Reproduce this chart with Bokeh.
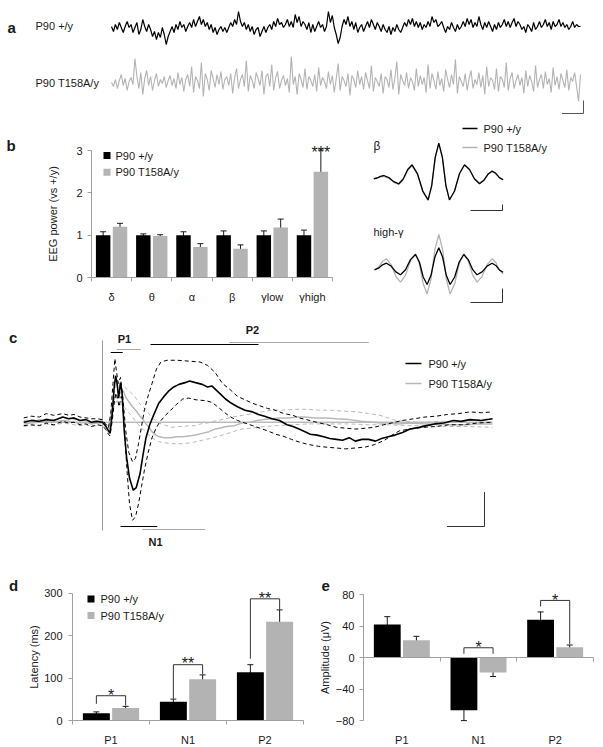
from bokeh.plotting import figure
from bokeh.models import (Range1d, ColumnDataSource, Whisker, TeeHead, Label,
                          FixedTicker, LinearAxis)
from bokeh.layouts import column, row
from bokeh.embed import file_html
from bokeh.resources import INLINE

FONT = "Liberation Sans"
TXT = "#1a1a1a"
AXC = "#a0a0a0"
BLK = "#000000"
GRY = "#b3b3b3"
ERPG = "#b8b8b8"

# ======================= DATA =======================
# (a) raw EEG traces (arbitrary units, up = positive)
eeg_wt = [3, -2, 5, 0, 7, 2, -3, 3, 8, 2,
          5, -3, 2, 7, -5, 0, 10, 3, -2, 5,
          0, -7, -2, -10, -3, -8, 2, -5, -15, -7,
          -2, 3, -3, 5, 0, 8, 2, 5, -2, 3,
          7, 2, 10, 3, 8, 13, 5, 10, 3, 7,
          0, 5, -3, 2, -5, 0, 3, -2, 2, -3,
          2, 7, 3, 10, 5, 18, 8, 3, 7, 0,
          5, -2, 3, -5, 0, 2, -7, -2, 3, -3,
          2, 5, 0, 8, 3, 11, 5, 7, 2, 5,
          10, 3, 8, 2, 15, 7, 13, 3, 8, 5,
          0, 7, -3, 5, -2, 3, 8, 2, 5, -2,
          3, 18, 7, 14, 2, -5, -14, -8, 3, 10,
          5, 13, 3, 8, 0, 7, -3, 2, 5, -2,
          3, 8, 2, 10, 5, 0, 7, 3, -2, 5,
          0, -3, 3, -5, 2, -2, 5, 0, -3, 2,
          7, 3, 10, 5, 11, 3, 8, 2, 7, 0,
          5, 2, 8, 3, 13, 7, 10, 3, 5, 8,
          2, -3, 3, 0, 7, 2, -2, 5, 0, 3,
          8, 3, 11, 5, 10, 2, 7, 3, 13, 5,
          0, 7, 2, 8, 3, -2, 5, 0, 7, 2,
          5, 10, 3, 8, 2, 7, 11, 3, 8, 5,
          0, 3, -3, 5, 2, -2, 7, 0, 3, 8,
          2, 5, 10, 3, 7, 0, 8, 3, 5, 10,
          3, 7, 2, 5, 0, 3, 8, 2, 5, 3, 3]
eeg_ko = [0, -4, 3, -6, 2, 8, -3, 4, -8, 1,
          5, -2, 24, 6, -6, 10, -12, 4, 12, -3,
          6, -8, 2, 9, -4, 3, -1, 6, -5, 2,
          7, -3, 4, -6, 10, -2, 5, -9, 3, 8,
          -4, 16, -10, 6, 2, -6, 20, -14, 9, 3,
          -8, 12, 4, -5, 8, -2, 11, -7, 3, 6,
          -3, 9, -11, 5, 14, -6, 3, 8, -4, 22,
          -9, 7, 2, -6, 10, 4, -3, 12, -12, 6,
          9, -4, 18, -8, 5, 11, -6, 2, 7, -3,
          4, -10, 26, -2, 6, -12, 9, 3, -5, 14,
          -7, 6, 2, -4, 8, -9, 15, -3, 5, 1,
          -6, 11, -2, 7, -10, 4, 19, -8, 6, 2,
          -4, 9, -13, 7, 3, -5, 12, -2, 6, -7,
          10, 2, -6, 17, -9, 5, 1, -4, 9, -11,
          6, 3, -5, 13, -7, 4, 21, -12, 8, 2,
          -3, 10, -6, 5, 1, -8, 14, -4, 7, -2,
          5, -10, 18, -6, 9, 2, -7, 11, -3, 4,
          -9, 13, 3, -5, 8, -2, 23, -11, 6, 1,
          -4, 9, -8, 4, 12, -6, 3, -2, 10, -5,
          7, -12, 16, -4, 5, 2, -7, 14, -9, 6,
          3, -5, 20, -8, 4, 10, -6, 2, 8, -3,
          5, -11, 12, -4, 7, 1, -9, 17, -5, 3,
          8, -6, 11, -2, 4, -10, 15, -3, 6, -7,
          9, 2, -5, 13, -8, 5, 1, 10, -4, -19, 8]

# (b) EEG power relative to +/y
bands = ["δ", "θ", "α", "β", "γlow", "γhigh"]
power_wt = [1.0, 1.0, 1.0, 1.0, 1.0, 1.0]
power_wt_err = [0.08, 0.03, 0.08, 0.10, 0.10, 0.12]
power_ko = [1.20, 0.98, 0.72, 0.68, 1.18, 2.50]
power_ko_err = [0.08, 0.03, 0.08, 0.09, 0.20, 0.51]
power_sig = ["", "", "", "", "", "***"]

# (b, right) averaged filtered waveforms
beta_t = [-65, -61.7, -58.3, -55, -50, -45, -40, -35.6, -31.1, -26.7, -21.4, -16,
          -10.7, -7.1, -3.6, 0, 3.6, 7.1, 10.7, 15.7, 20.7, 25.7, 30.7, 35.7, 40.7,
          44.9, 49.1, 53.3, 57, 60.6, 64.3]
beta_wt = [0, 0.8, 2.5, 3.3, 1.2, -2.9, -5, -0.25, 9.25, 14, 5.25, -12.25, -21, -6.8,
           21.5, 35.7, 21.5, -6.8, -21, -12.25, 5.25, 14, 9.25, -0.25, -5, -1.8, 4.5,
           7.7, 5.5, 1.2, -1]
beta_ko = [0.5, 1.0, 2.0, 2.5, 0.5, -3.5, -5.5, -0.9, 8.4, 13, 4.4, -12.9, -21.5, -7.4,
           20.9, 35, 20.9, -7.4, -21.5, -12.75, 4.75, 13.5, 9.1, 0.4, -4, -1.25, 4.25,
           7, 5, 1, -1]
hg_t = [-64.3, -60.3, -56.3, -52.3, -47.6, -43, -38.3, -33.3, -28.3, -23.3, -19.4,
        -15.6, -11.7, -7.8, -3.9, 0, 3.8, 7.5, 11.3, 15.9, 20.4, 25, 29.4, 33.9, 38.3,
        43.3, 48.3, 53.3, 57, 60.6, 64.3]
hg_wt = [0.7, 2.35, 5.65, 7.3, 4.4, -1.4, -4.3, 0.8, 10.9, 16, 8.5, -6.5, -14, -4.8,
         13.5, 22.7, 13.5, -4.8, -14, -6.5, 8.5, 16, 10.9, 0.8, -4.3, -1.4, 4.4, 7.3,
         5.05, 0.55, -1.7]
hg_ko = [0.7, 3.45, 8.95, 11.7, 5.85, -5.85, -11.7, -4.6, 9.6, 16.7, 6.7, -13.3, -23.3,
         -8.5, 21.2, 36, 21.2, -8.5, -23.3, -13.3, 6.7, 16.7, 9.6, -4.6, -11.7, -5.85,
         5.85, 11.7, 7.95, 0.45, -3.3]

# (c) ERP (time in ms, amplitude in arbitrary units); mean and mean +/- s.e.m.
erp_wt_mean = [(-105, 0), (-95, 2), (-84, 1), (-75, 3), (-65, 2), (-53, 6), (-45, 4), (-38, 5),
               (-30, 2), (-22, 3), (-15, 0), (-7, 1), (0, 0), (4, -4), (8, -10), (10, -13),
               (13, 10), (15.5, 40), (17.5, 54), (19.5, 45), (21.5, 28), (24, 46), (26, 35),
               (29, -10), (32, -40), (36, -65), (41, -79), (45, -76), (50, -60), (54, -38),
               (58, -18), (63, -3), (68, 8), (75, 22), (82, 30), (88, 36), (95, 41), (102, 44),
               (110, 46), (116, 48), (124, 46), (133, 44), (140, 41), (146, 42), (152, 37),
               (158, 32), (164, 27), (172, 22), (180, 18), (190, 14), (200, 12), (208, 9),
               (216, 7), (226, 4), (236, 2), (246, -3), (254, -5), (262, -8), (270, -11),
               (277, -14), (286, -15), (295, -17), (303, -19), (312, -20), (320, -21),
               (329, -18), (337, -22), (346, -20), (355, -20), (364, -22), (372, -19),
               (381, -17), (390, -15), (400, -12), (410, -8), (422, -6), (432, -4),
               (443, -2), (455, -1), (468, 2), (478, 1), (490, 3), (505, 2), (520, 4)]
erp_wt_upper = [(-105, 5), (-95, 7), (-84, 6), (-75, 10), (-65, 8), (-53, 10), (-45, 8), (-38, 9),
                (-30, 6), (-22, 5), (-15, 4), (-7, 4), (0, 3), (4, -2), (8, -6), (11, 10),
                (14, 45), (16.5, 74), (18.5, 60), (21, 45), (24, 52), (27, 30), (31, -10),
                (35, -35), (40, -46), (44, -42), (48, -25), (52, -5), (56, 15), (60, 28),
                (66, 45), (72, 62), (78, 70), (86, 72), (100, 72), (115, 71), (130, 70),
                (140, 66), (150, 58), (160, 45), (170, 38), (180, 30), (190, 26), (200, 22),
                (210, 19), (220, 16), (230, 14), (242, 10), (254, 8), (262, 5), (272, 3),
                (285, 0), (300, -3), (312, -6), (325, -7), (338, -8), (350, -7), (362, -6),
                (375, -3), (385, -1), (400, 2), (415, 4), (430, 6), (445, 7), (460, 9),
                (475, 10), (490, 12), (505, 11), (520, 12)]
erp_wt_lower = [(-105, -4), (-95, -3), (-84, -4), (-75, -1), (-65, -3), (-53, 1), (-45, -1),
                (-38, 0), (-30, -3), (-22, -2), (-15, -5), (-7, -3), (0, -4), (4, -8), (8, -14),
                (10, -16), (13, 2), (16, 25), (18, 34), (20, 28), (22, 18), (25, 30), (27, 20),
                (30, -20), (33, -60), (36, -95), (40, -114), (44, -110), (48, -95), (52, -75),
                (56, -55), (61, -35), (66, -18), (71, -8), (76, 0), (84, 8), (91, 14), (99, 21),
                (107, 27), (115, 28), (125, 26), (138, 25), (146, 23), (152, 19), (159, 14),
                (166, 9), (173, 5), (180, 2), (190, -1), (200, -4), (210, -7), (220, -10),
                (231, -14), (240, -16), (252, -20), (262, -23), (275, -26), (288, -28),
                (298, -29), (312, -30), (324, -31), (337, -30), (350, -29), (363, -26),
                (376, -21), (386, -15), (396, -10), (410, -8), (427, -6), (445, -5),
                (462, -3), (479, -3), (500, -1), (520, 0)]
erp_ko_mean = [(-105, -2), (-95, -1), (-84, 0), (-75, 1), (-65, 0), (-53, 2), (-45, 1), (-38, 0),
               (-30, -1), (-22, 0), (-15, -2), (-7, -1), (0, -1), (4, -5), (8, -8), (11, 4),
               (14, 20), (17, 31), (19, 28), (22, 32), (25, 35), (28, 36), (31, 29), (35, 24),
               (40, 18), (45, 13), (50, 7), (54, 3), (58, -2), (62, -6), (66, -11), (71, -15),
               (76, -17), (82, -18), (91, -18), (99, -17), (107, -17), (115, -16), (124, -15),
               (133, -13), (142, -11), (150, -8), (156, -7), (165, -5), (176, -4), (186, -1),
               (197, 0), (206, 2), (215, 3), (225, 4), (236, 5), (248, 5), (260, 6), (270, 6),
               (283, 5), (298, 5), (312, 4), (329, 3), (345, 1), (360, 0), (372, -1),
               (381, -1), (395, -2), (410, -1), (432, -2), (450, -2), (465, -3), (484, -3),
               (500, -2), (520, -2)]
erp_ko_upper = [(-105, 2), (-95, 3), (-84, 3), (-75, 4), (-65, 3), (-53, 5), (-45, 4), (-38, 3),
                (-30, 2), (-22, 3), (-15, 1), (-7, 2), (0, 2), (4, -2), (8, -4), (11, 8),
                (14, 28), (17, 40), (19.5, 45), (23, 42), (26, 40), (29.5, 41), (33, 38),
                (37, 35), (41, 32), (46, 26), (51, 20), (55.5, 17), (60, 12), (65, 6), (71, 2),
                (78, -2), (85, -4), (92, -6), (100, -5), (108, -5), (116, -4), (123, -4),
                (131, -2), (140, -1), (148, 1), (154, 2), (164, 4), (174, 6), (187, 8),
                (200, 10), (213, 12), (226, 14), (240, 14), (257, 15), (272, 15), (288, 14),
                (303, 14), (320, 13), (340, 12), (355, 10), (370, 8), (381, 5), (391, 2),
                (405, 1), (420, 0), (433, 0), (450, 1), (466, 1), (484, 2), (500, 3), (520, 4)]
erp_ko_lower = [(-105, -5), (-95, -4), (-84, -3), (-75, -2), (-65, -4), (-53, -1), (-45, -2),
                (-38, -3), (-30, -4), (-22, -3), (-15, -5), (-7, -4), (0, -4), (4, -8), (8, -12),
                (11, 0), (14, 14), (17, 22), (19.5, 25), (23, 20), (26, 21), (29.5, 17),
                (33, 13), (36, 10), (40, 6), (45, 0), (50, -5), (55, -9), (61, -14), (66, -18),
                (71, -21), (76, -23), (84, -24), (92, -25), (100, -25), (108, -25), (116, -24),
                (123, -23), (133, -21), (143, -19), (152, -17), (164, -14), (174, -11),
                (185, -8), (198, -7), (215, -5), (232, -4), (252, -3), (275, -2), (303, -2),
                (330, -2), (355, -3), (380, -3), (406, -4), (430, -4), (458, -5), (490, -5),
                (520, -6)]
# component analysis windows (ms)
win_names = ["P1", "N1", "P2"]
win_wt_start = [11, 24, 64]
win_wt_end = [27, 73, 208]
win_ko_start = [19, 53, 169]
win_ko_end = [51, 137, 355]

# (d) latency, (e) amplitude
components = ["P1", "N1", "P2"]
lat_wt = [18, 45, 114]
lat_wt_err = [3, 6, 18]
lat_ko = [30, 98, 233]
lat_ko_err = [4, 10, 28]
lat_sig = ["*", "**", "**"]
lat_br_top = [59, 132, 287]
lat_br_left = [40, 52, 146]
lat_br_right = [36, 110, 262]

amp_wt = [42, -67, 48]
amp_wt_err = [10, 13, 10]
amp_ko = [22, -19, 13]
amp_ko_err = [5, 5, 3]
amp_sig = ["", "*", "*"]
amp_br_top = [0, 12.5, 72.6]
amp_br_left = [0, 4.8, 65]
amp_br_right = [0, 4.8, 17]

# ======================= HELPERS =======================
def make(X0, Y0, W, H, xo, xs, yo, ys):
    """Figure whose frame is the whole canvas (page box X0,Y0,W,H).
    data x -> page X = xo + x*xs ; data y -> page Y = yo - y*ys"""
    xr = Range1d((X0 - xo) / xs, (X0 + W - xo) / xs)
    yr = Range1d((yo - (Y0 + H)) / ys, (yo - Y0) / ys)
    p = figure(width=W, height=H, x_range=xr, y_range=yr, output_backend="svg",
               toolbar_location=None, x_axis_location=None, y_axis_location=None,
               min_border_left=0, min_border_right=0, min_border_top=0, min_border_bottom=0)
    p.outline_line_color = None
    p.background_fill_color = "white"
    p.border_fill_color = "white"
    p.grid.visible = False

    def gx(X):
        return (X - xo) / xs

    def gy(Y):
        return (yo - Y) / ys
    return p, gx, gy


def label(p, x, y, text, size=11, bold=False, align="left", baseline="middle", color=TXT):
    p.add_layout(Label(x=x, y=y, text=text, text_font=FONT, text_font_size=f"{size}px",
                       text_font_style="bold" if bold else "normal", text_align=align,
                       text_baseline=baseline, text_color=color))


def style_axis(ax, size="11px"):
    ax.axis_line_color = AXC
    ax.major_tick_line_color = AXC
    ax.major_tick_out = 4
    ax.major_tick_in = 0
    ax.minor_tick_line_color = None
    ax.major_label_text_font = FONT
    ax.major_label_text_font_size = size
    ax.major_label_text_color = TXT
    ax.axis_label_text_font = FONT
    ax.axis_label_text_font_size = size
    ax.axis_label_text_font_style = "normal"
    ax.axis_label_text_color = TXT


def value_axis(p, at, ticks, lo, hi, title, standoff, title_standoff):
    ax = LinearAxis(fixed_location=at, ticker=FixedTicker(ticks=ticks), bounds=(lo, hi))
    style_axis(ax)
    ax.major_label_standoff = standoff
    ax.axis_label = title
    ax.axis_label_standoff = title_standoff
    p.add_layout(ax, "left")
    return ax


def cat_axis(p, at, names, standoff):
    n = len(names)
    ax = LinearAxis(fixed_location=at, bounds=(-0.5, n - 0.5),
                    ticker=FixedTicker(ticks=list(range(n)),
                                       minor_ticks=[i - 0.5 for i in range(n + 1)]))
    style_axis(ax)
    ax.major_label_overrides = {i: s for i, s in enumerate(names)}
    ax.major_tick_line_color = None
    ax.major_tick_out = 0
    ax.minor_tick_line_color = AXC
    ax.minor_tick_out = 4
    ax.minor_tick_in = 0
    ax.major_label_standoff = standoff
    p.add_layout(ax, "below")
    return ax


def bars(p, vals, errs, offset, width, color):
    src = ColumnDataSource(dict(x=[i + offset for i in range(len(vals))], top=vals,
                                up=[v + e for v, e in zip(vals, errs)],
                                lo=[v - e for v, e in zip(vals, errs)]))
    r = p.vbar(x="x", top="top", bottom=0, width=width, source=src,
               fill_color=color, line_color=None)
    p.add_layout(Whisker(source=src, base="x", upper="up", lower="lo", line_color=TXT,
                         line_width=1,
                         upper_head=TeeHead(size=6, line_color=TXT, line_width=1),
                         lower_head=TeeHead(size=6, line_color=TXT, line_width=1)))
    return r


def legend_squares(p, gx, gy, sq_x, txt_x, rows):
    for Yc, color, text in rows:
        p.scatter([gx(sq_x)], [gy(Yc)], marker="square", size=7, fill_color=color,
                  line_color=None)
        label(p, gx(txt_x), gy(Yc), text, 11)


def legend_lines(p, gx, gy, x0, x1, txt_x, rows, width=1.5):
    for Yc, color, text in rows:
        p.line([gx(x0), gx(x1)], [gy(Yc), gy(Yc)], line_color=color, line_width=width)
        label(p, gx(txt_x), gy(Yc), text, 11)


STAR = 16


def star_y(gy, bracket_Y, gap_px):
    # baseline so that the asterisk centre sits gap_px above bracket_Y
    return gy(bracket_Y - gap_px + 0.58 * STAR)


# ======================= PANEL a =======================
n_a = len(eeg_wt)
tr_x0, tr_x1 = 111, 580
pps = (tr_x1 - tr_x0) / (n_a - 1)
fa, gxA, gyA = make(0, 0, 600, 120, tr_x0, pps, 120, 1.0)
base_wt, base_ko = gyA(29), gyA(82)
fa.line(list(range(len(eeg_ko))), [base_ko + v for v in eeg_ko], line_color=GRY, line_width=1.1)
fa.line(list(range(n_a)), [base_wt + v for v in eeg_wt], line_color=BLK, line_width=1.2)
SB_A_T, SB_A_V = 11, 13
cxA, cyA = gxA(583), gyA(113)
fa.line([cxA - SB_A_T, cxA, cxA], [cyA, cyA, cyA + SB_A_V], line_color="#555555", line_width=1)
label(fa, gxA(7), gyA(27), "a", 15, bold=True, baseline="alphabetic")
label(fa, gxA(35), gyA(25), "P90 +/y", 11)
label(fa, gxA(35), gyA(82), "P90 T158A/y", 11)

# ======================= PANEL b (bars) =======================
sxB = 241 / len(bands)
syB = 127 / 3
fbl, gxB, gyB = make(0, 120, 360, 198, 91 + 0.5 * sxB, sxB, 277, syB)
bars(fbl, power_wt, power_wt_err, -0.21, 0.36, BLK)
bars(fbl, power_ko, power_ko_err, 0.21, 0.36, GRY)
value_axis(fbl, -0.5, [0, 1, 2, 3], 0, 3, "EEG power (vs +/y)", 5, 14)
cat_axis(fbl, 0, bands, 9)
legend_squares(fbl, gxB, gyB, 106.5, 115, [(155, BLK, "P90 +/y"), (171.7, GRY, "P90 T158A/y")])
for i, s in enumerate(power_sig):
    if s:
        topY = 277 - (power_ko[i] + power_ko_err[i]) * syB
        label(fbl, i + 0.21, star_y(gyB, topY, 7), s, STAR, align="center",
              baseline="alphabetic")
label(fbl, gxB(6), gyB(145), "b", 15, bold=True, baseline="alphabetic")

# ======================= PANEL b (waveforms) =======================
fbr, gxW, gyW = make(360, 120, 240, 198, 438.3, 1.0, 318, 1.0)
off_beta, off_hg = gyW(178.3), gyW(270)
fbr.line(beta_t, [off_beta + v for v in beta_ko], line_color=GRY, line_width=1.3)
fbr.line(beta_t, [off_beta + v for v in beta_wt], line_color=BLK, line_width=1.3)
fbr.line(hg_t, [off_hg + v for v in hg_ko], line_color=GRY, line_width=1.3)
fbr.line(hg_t, [off_hg + v for v in hg_wt], line_color=BLK, line_width=1.3)
SB_W_T, SB_W_V1, SB_W_V2 = 32, 6, 14
for Yc, vlen in ((210, SB_W_V1), (302, SB_W_V2)):
    cx, cy = gxW(502), gyW(Yc)
    fbr.line([cx - SB_W_T, cx, cx], [cy, cy, cy + vlen], line_color="#333333", line_width=1)
legend_lines(fbr, gxW, gyW, 462, 477, 483, [(128, BLK, "P90 +/y"), (147, GRY, "P90 T158A/y")])
label(fbr, gxW(373), gyW(145), "β", 12)
label(fbr, gxW(373), gyW(231), "high-γ", 11)

# ======================= PANEL c =======================
PX_MS, PX_U, T0_X, BASE_Y = 0.75, 0.86, 102, 421.7
fc, gxC, gyC = make(0, 318, 600, 248, T0_X, PX_MS, BASE_Y, PX_U)
tt = [t for t, _ in erp_wt_mean]
fc.line([min(tt), max(tt)], [0, 0], line_color="#9a9a9a", line_width=1)
fc.line([0, 0], [gyC(340), gyC(530)], line_color="#9a9a9a", line_width=1)


def curve(pairs, color, dash="solid", width=1.0):
    return fc.line([t for t, _ in pairs], [v for _, v in pairs], line_color=color,
                   line_width=width, line_dash=dash)


curve(erp_ko_upper, ERPG, "4 3", 1.0)
curve(erp_ko_lower, ERPG, "4 3", 1.0)
curve(erp_ko_mean, ERPG, "solid", 1.5)
curve(erp_wt_upper, BLK, "4 3", 1.0)
curve(erp_wt_lower, BLK, "4 3", 1.0)
curve(erp_wt_mean, BLK, "solid", 1.6)
win_y_wt = {"P1": gyC(352), "N1": gyC(526), "P2": gyC(344)}
win_y_ko = {"P1": gyC(349), "N1": gyC(529), "P2": gyC(342)}
fc.segment(x0=win_ko_start, x1=win_ko_end, y0=[win_y_ko[n] for n in win_names],
           y1=[win_y_ko[n] for n in win_names], line_color="#aaaaaa", line_width=1)
fc.segment(x0=win_wt_start, x1=win_wt_end, y0=[win_y_wt[n] for n in win_names],
           y1=[win_y_wt[n] for n in win_names], line_color=BLK, line_width=1)
label(fc, gxC(124), gyC(338.5), "P1", 11, bold=True, align="center")
label(fc, gxC(252), gyC(329), "P2", 11, bold=True, align="center")
label(fc, gxC(155), gyC(541.5), "N1", 11, bold=True, align="center")
SB_C_T, SB_C_V = 50, 40
cxC, cyC = gxC(484), gyC(526)
fc.line([cxC - SB_C_T, cxC, cxC], [cyC, cyC, cyC + SB_C_V], line_color="#333333", line_width=1)
legend_lines(fc, gxC, gyC, 405, 421, 428, [(363, BLK, "P90 +/y"), (383, ERPG, "P90 T158A/y")])
label(fc, gxC(8.5), gyC(337), "c", 15, bold=True, baseline="alphabetic")

# ======================= PANEL d =======================
sxD = 231 / len(components)
syD = 127.5 / 300
fd, gxD, gyD = make(0, 566, 310, 179, 72 + 0.5 * sxD, sxD, 720.3, syD)
bars(fd, lat_wt, lat_wt_err, -0.19, 0.35, BLK)
bars(fd, lat_ko, lat_ko_err, 0.19, 0.35, GRY)
value_axis(fd, -0.5, [0, 100, 200, 300], 0, 300, "Latency (ms)", 6, 1)
cat_axis(fd, 0, components, 9)
legend_squares(fd, gxD, gyD, 90.5, 100, [(598.5, BLK, "P90 +/y"), (615, GRY, "P90 T158A/y")])
fd.multi_line(xs=[[i - 0.19, i - 0.19, i + 0.19, i + 0.19] for i in range(len(components))],
              ys=[[lat_br_left[i], lat_br_top[i], lat_br_top[i], lat_br_right[i]]
                  for i in range(len(components))], line_color="#333333", line_width=1)
for i, s in enumerate(lat_sig):
    if s:
        label(fd, i, star_y(gyD, 720.3 - lat_br_top[i] * syD, 10), s, STAR,
              align="center", baseline="alphabetic")
label(fd, gxD(8.5), gyD(585), "d", 15, bold=True, baseline="alphabetic")

# ======================= PANEL e =======================
sxE = 230 / len(components)
syE = 126 / 160
fe, gxE, gyE = make(310, 566, 290, 179, 363 + 0.5 * sxE, sxE, 657.1, syE)
bars(fe, amp_wt, amp_wt_err, -0.19, 0.35, BLK)
bars(fe, amp_ko, amp_ko_err, 0.19, 0.35, GRY)
value_axis(fe, -0.5, [-80, -40, 0, 40, 80], -80, 80, "Amplitude (μV)", 5, 2)
# category labels along the bottom, tick marks on the zero line
lab_ax = cat_axis(fe, -80, components, 9)
lab_ax.axis_line_color = None
lab_ax.minor_tick_line_color = None
zero_ax = cat_axis(fe, 0, ["", "", ""], 9)
zero_ax.major_label_text_alpha = 0
sig_idx = [i for i, s in enumerate(amp_sig) if s]
fe.multi_line(xs=[[i - 0.19, i - 0.19, i + 0.19, i + 0.19] for i in sig_idx],
              ys=[[amp_br_left[i], amp_br_top[i], amp_br_top[i], amp_br_right[i]]
                  for i in sig_idx], line_color="#333333", line_width=1)
for i in sig_idx:
    label(fe, i, star_y(gyE, 657.1 - amp_br_top[i] * syE, 9.5), amp_sig[i], STAR,
          align="center", baseline="alphabetic")
label(fe, gxE(321), gyE(585), "e", 15, bold=True, baseline="alphabetic")

layout = column(fa, row(fbl, fbr), fc, row(fd, fe))
with open("out.html", "w") as f:
    f.write(file_html(layout, INLINE))
